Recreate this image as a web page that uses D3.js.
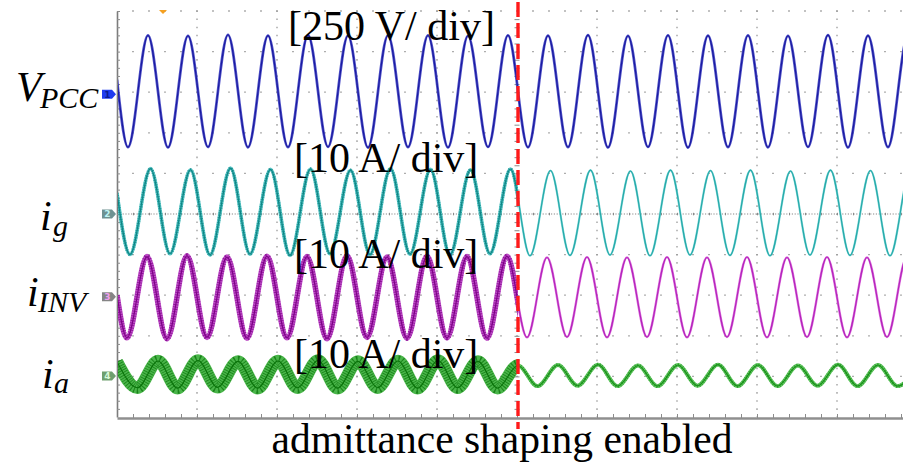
<!DOCTYPE html>
<html><head><meta charset="utf-8">
<script src="https://cdn.jsdelivr.net/npm/d3@7"></script>
<style>
html,body{margin:0;padding:0;background:#fff;}
svg{display:block;}
</style></head><body>
<svg id="scope" width="903" height="464"></svg>
<script>
// Channel settings: units per division and reference offset (in divisions)
const channelScale = [250, 10, 10, 10];
const channelOffset = [2.95, 0, -2.04, -3.99];
const switchTime = 200.5;   // ms, admittance shaping switched on
const triggerTime = 23;     // ms

// Waveform extrema [time ms, value] per channel
const vpccPts = [[0,90],[5.5,-326],[15.5,362],[25.5,-328],[35.5,360],[45.5,-325],[55.5,366],[65.5,-327],[75.5,361],[85.5,-326],[95.5,364],[105.5,-324],[115.5,361],[125.5,-329],[135.5,363],[145.5,-326],[155.5,362],[165.5,-328],[175.5,360],[185.5,-325],[195.5,363],[205.5,-327],[215.5,361],[225.5,-326],[235.5,364],[245.5,-328],[255.5,360],[265.5,-325],[275.5,363],[285.5,-329],[295.5,361],[305.5,-326],[315.5,362],[325.5,-327],[335.5,360],[345.5,-325],[355.5,364],[365.5,-328],[375.5,361],[385.5,-326],[395.5,362],[405.5,-325]];
const igPts = [[0,5.2],[6.5,-10.0],[16.75,11.2],[26.5,-9.8],[36.75,10.9],[46.5,-10.1],[56.75,11.3],[66.5,-9.9],[76.75,11.0],[86.5,-10.2],[96.75,11.1],[106.5,-9.8],[116.75,10.8],[126.5,-10.0],[136.75,11.2],[146.5,-9.9],[156.75,11.0],[166.5,-10.1],[176.75,10.9],[186.5,-9.8],[196.75,11.1],[206.5,-10.3],[216.75,10.7],[226.5,-10.2],[236.75,10.8],[246.5,-10.1],[256.75,10.6],[266.5,-10.3],[276.75,10.8],[286.5,-10.1],[296.75,10.7],[306.5,-10.2],[316.75,10.8],[326.5,-10.3],[336.75,10.6],[346.5,-10.1],[356.75,10.8],[366.5,-10.2],[376.75,10.7],[386.5,-10.3],[396.75,10.8],[406.5,-10.1]];
const iinvPts = [[0,0.4],[5,-10.1],[15,9.9],[25,-10.3],[35,10.1],[45,-10.0],[55,9.8],[65,-10.2],[75,10.0],[85,-10.1],[95,9.9],[105,-10.3],[115,10.1],[125,-10.0],[135,9.8],[145,-10.2],[155,10.0],[165,-10.1],[175,9.9],[185,-10.2],[195,10.0],[205,-10.0],[215,9.7],[225,-9.9],[235,9.8],[245,-10.0],[255,9.7],[265,-9.9],[275,9.8],[285,-10.0],[295,9.7],[305,-9.9],[315,9.8],[325,-10.0],[335,9.7],[345,-9.9],[355,9.8],[365,-10.0],[375,9.7],[385,-9.9],[395,9.8],[405,-10.0]];
const iaPts = [[0,3.5],[10.25,-2.9],[20.5,3.7],[30.25,-3.0],[40.5,3.8],[50.25,-2.8],[60.5,3.6],[70.25,-3.0],[80.5,3.7],[90.25,-2.9],[100.5,3.8],[110.25,-3.0],[120.5,3.6],[130.25,-2.9],[140.5,3.7],[150.25,-3.0],[160.5,3.8],[170.25,-2.9],[180.5,3.6],[190.25,-3.0],[200.5,2.6],[210.25,-2.5],[220.5,2.7],[230.25,-2.4],[240.5,2.8],[250.25,-2.5],[260.5,2.6],[270.25,-2.5],[280.5,2.7],[290.25,-2.4],[300.5,2.8],[310.25,-2.5],[320.5,2.7],[330.25,-2.5],[340.5,2.6],[350.25,-2.4],[360.5,2.8],[370.25,-2.5],[380.5,2.7],[390.25,-2.5],[400.5,2.7]];

// Switching ripple half-width (units) before / after the change
const rippleBefore = [5, 0.3, 0.55, 1.4];
const rippleAfter = [5, 0.12, 0.15, 0.35];

const scaleLabels = ["[250 V/ div]", "[10 A/ div]", "[10 A/ div]", "[10 A/ div]"];
const eventLabel = "admittance shaping enabled";

const svg = d3.select("#scope");
const W = 903, H = 464;
const x = d3.scaleLinear().domain([0, 400]).range([117, 917]);
const y = d3.scaleLinear().domain([-5, 5]).range([417, 11]);
const divPx = Math.abs(y(1) - y(0));
const serif = "'Liberation Serif','Times New Roman',serif";

svg.append("rect").attr("width", W).attr("height", H).attr("fill", "#fff");

// ---- graticule ----
const grid = svg.append("g");
const xLeft = x(0), xRight = W;
d3.range(-4, 6).filter(d => d !== 0).forEach(d => {
  grid.append("line").attr("x1", xLeft + 15.2).attr("x2", xRight)
    .attr("y1", y(d)).attr("y2", y(d))
    .attr("stroke", "#9a9a9a").attr("stroke-width", 1.3)
    .attr("stroke-dasharray", "1.6,14.4");
});
d3.range(40, 400, 40).filter(t => t !== 200).forEach(t => {
  grid.append("line").attr("x1", x(t)).attr("x2", x(t))
    .attr("y1", y(5) - 0.6).attr("y2", y(-5))
    .attr("stroke", "#9a9a9a").attr("stroke-width", 1.3)
    .attr("stroke-dasharray", "1.6," + (divPx / 5 - 1.6));
});
// centre axes
grid.append("line").attr("x1", xLeft).attr("x2", xRight).attr("y1", y(0)).attr("y2", y(0))
  .attr("stroke", "#8a8a8a").attr("stroke-width", 1.1).attr("stroke-dasharray", "1.2,1.6");
const hAxis = d3.axisBottom(x).tickValues(d3.range(8, 400, 8)).tickSize(2.5).tickSizeOuter(0).tickFormat("");
grid.append("g").attr("transform", `translate(0,${y(0) - 1.2})`).call(hAxis)
  .call(g => g.select(".domain").remove())
  .call(g => g.selectAll("line").attr("stroke", "#8a8a8a"));
const vAxis = d3.axisRight(y).tickValues(d3.range(-4.8, 5, 0.2)).tickSize(5).tickFormat("");
grid.append("g").attr("transform", `translate(${x(200) - 2.5},0)`).call(vAxis)
  .call(g => g.select(".domain").remove())
  .call(g => g.selectAll("line").attr("stroke", "#8a8a8a"));

// left and bottom frame with minor ticks
const leftAxis = d3.axisRight(y).tickValues(d3.range(-4.8, 5.1, 0.2)).tickSize(3).tickSizeOuter(0).tickFormat("");
svg.append("g").attr("transform", `translate(${xLeft},0)`).call(leftAxis)
  .call(g => g.select(".domain").attr("stroke", "#7c7c7c").attr("stroke-width", 1.6))
  .call(g => g.selectAll(".tick line").attr("stroke", "#8c8c8c"));
const bottomAxis = d3.axisTop(x).tickValues(d3.range(8, 400, 8)).tickSize(4).tickSizeOuter(0).tickFormat("");
svg.append("g").attr("transform", `translate(0,${y(-5) + 1})`).call(bottomAxis)
  .call(g => g.select(".domain").attr("stroke", "#8f8f8f").attr("stroke-width", 2.4))
  .call(g => g.selectAll(".tick line").attr("stroke", "#8c8c8c"));

// ---- traces ----
const defs = svg.append("defs");
defs.append("clipPath").attr("id", "cBefore").append("rect")
  .attr("x", xLeft + 1).attr("y", 0).attr("width", x(switchTime) - xLeft - 1).attr("height", H);
defs.append("clipPath").attr("id", "cAfter").append("rect")
  .attr("x", x(switchTime)).attr("y", 0).attr("width", W - x(switchTime)).attr("height", H);

const series = [vpccPts, igPts, iinvPts, iaPts];
const styles = [
  {bBand: "#3436c0", bCore: "#1a1aa0", aBand: "#3436c0", aCore: "#1a1aa0"},
  {bBand: "#38bcbc", bCore: "#0f8585", aBand: "#5ccdcd", aCore: "#26a8a8"},
  {bBand: "#b02abb", bCore: "#7e0088", aBand: "#d452d4", aCore: "#b322bb"},
  {bBand: "#2aa82a", bCore: "#0a730a", aBand: "#45bd45", aCore: "#1a8f1a"}
];

series.forEach((pts, i) => {
  const line = d3.line()
    .x(d => x(d[0]))
    .y(d => y(channelOffset[i] + d[1] / channelScale[i]))
    .curve(d3.curveMonotoneX);
  const d = line(pts);
  const st = styles[i];
  [["cBefore", rippleBefore[i], st.bBand, st.bCore], ["cAfter", rippleAfter[i], st.aBand, st.aCore]]
    .forEach(([clip, rip, band, core]) => {
      const ripPx = rip / channelScale[i] * divPx;
      const bandW = 2 * ripPx + 1.1;
      const g = svg.append("g").attr("clip-path", `url(#${clip})`);
      g.append("path").attr("d", d).attr("fill", "none")
        .attr("stroke", band).attr("stroke-width", bandW)
        .attr("stroke-linejoin", "round").attr("opacity", 0.85);
      // switching ripple texture across the band
      if (ripPx > 1) {
        g.append("path").attr("d", d).attr("fill", "none")
          .attr("stroke", core).attr("stroke-width", bandW * 0.9)
          .attr("stroke-dasharray", "0.8,1.6").attr("opacity", 0.75);
      }
      g.append("path").attr("d", d).attr("fill", "none")
        .attr("stroke", core).attr("stroke-width", 1.1);
    });
});

// ---- channel reference markers ----
const markerFill = ["#1f3cf0", "#6e9292", "#858585", "#6f9f6f"];
const markerText = ["#0a1a90", "#bff4f4", "#f0a0f0", "#d8f8d8"];
channelOffset.forEach((o, i) => {
  const cy = y(o), x0 = 102;
  svg.append("path")
    .attr("d", `M${x0},${cy - 4.5}H${x0 + 10}L${x0 + 14},${cy}L${x0 + 10},${cy + 4.5}H${x0}Z`)
    .attr("fill", markerFill[i]);
  svg.append("text").attr("x", x0 + 5.5).attr("y", cy + 3.3)
    .attr("text-anchor", "middle").attr("font-family", "'DejaVu Sans',sans-serif")
    .attr("font-size", 9).attr("font-weight", "bold").attr("fill", markerText[i])
    .text(String(i + 1));
});

// trigger position marker
svg.append("path")
  .attr("d", `M${x(triggerTime) - 4},${y(5) - 1}L${x(triggerTime) + 4},${y(5) - 1}L${x(triggerTime)},${y(5) + 3}Z`)
  .attr("fill", "#f5a020");

// ---- scale annotations ----
const labelBase = [40, 172, 268, 368];
const labelX = [288, 294, 294, 294];
scaleLabels.forEach((t, i) => {
  svg.append("text").attr("x", labelX[i]).attr("y", labelBase[i])
    .attr("font-family", serif).attr("font-size", 42).attr("fill", "#000").text(t);
});

// channel names
const names = [
  {main: "V", sub: "PCC", x: 16, y: 101, sx: 40, sy: 108},
  {main: "i", sub: "g", x: 40, y: 230, sx: 53, sy: 236},
  {main: "i", sub: "INV", x: 27, y: 306, sx: 38, sy: 312},
  {main: "i", sub: "a", x: 42, y: 388, sx: 54, sy: 393}
];
names.forEach(n => {
  svg.append("text").attr("x", n.x).attr("y", n.y).attr("font-family", serif)
    .attr("font-style", "italic").attr("font-size", 42).text(n.main);
  svg.append("text").attr("x", n.sx).attr("y", n.sy).attr("font-family", serif)
    .attr("font-style", "italic").attr("font-size", 30).text(n.sub);
});

// switching instant
svg.append("line").attr("x1", x(switchTime)).attr("x2", x(switchTime))
  .attr("y1", 2).attr("y2", 429)
  .attr("stroke", "#ff1a1a").attr("stroke-width", 3.4).attr("stroke-dasharray", "15,6");

svg.append("text").attr("x", 502).attr("y", 453).attr("text-anchor", "middle")
  .attr("font-family", serif).attr("font-size", 41.5).attr("fill", "#000").text(eventLabel);
</script>
</body></html>
